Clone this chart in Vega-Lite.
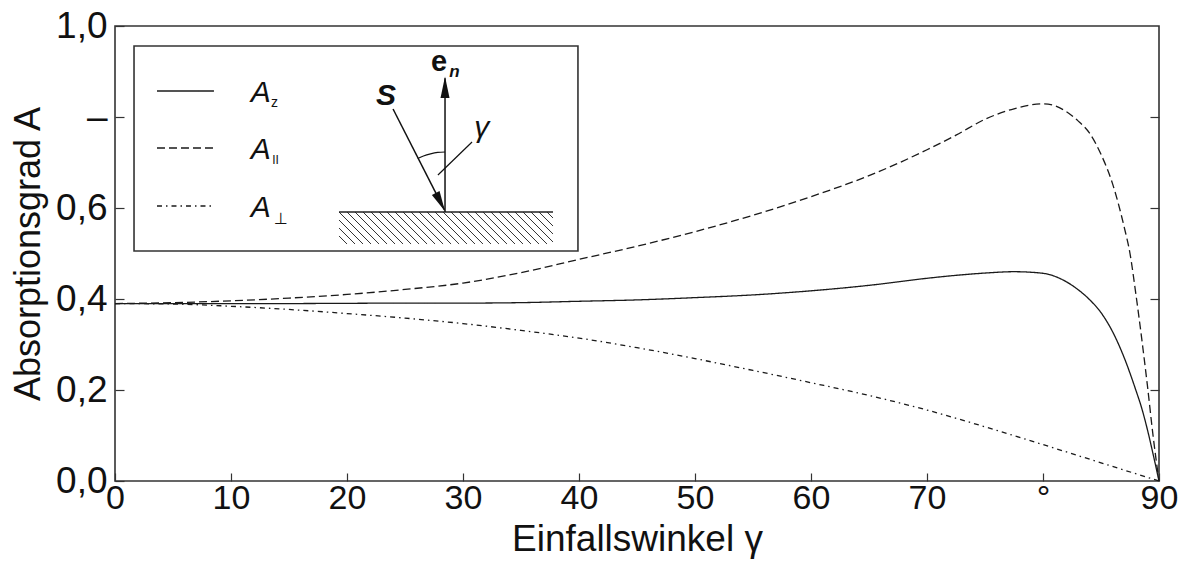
{
  "$schema": "https://vega.github.io/schema/vega-lite/v6.json",
  "width": 1044,
  "height": 455,
  "autosize": "none",
  "padding": {"left": 115, "top": 26, "right": 25, "bottom": 85},
  "background": "white",
  "config": {
    "view": {"stroke": "#333333", "strokeWidth": 1.6},
    "axis": {
      "grid": false,
      "domain": false,
      "labelFlush": false,
      "tickColor": "#333333",
      "tickWidth": 1.2,
      "labelColor": "#111111",
      "titleColor": "#111111",
      "labelFont": "Liberation Sans, Arial, sans-serif",
      "titleFont": "Liberation Sans, Arial, sans-serif",
      "labelFontSize": 37,
      "titleFontSize": 36,
      "titleFontWeight": "normal"
    }
  },
  "datasets": {
    "kurven": [
      {"x": 0, "y": 0.390, "serie": "Az"},
      {"x": 5, "y": 0.390, "serie": "Az"},
      {"x": 10, "y": 0.390, "serie": "Az"},
      {"x": 15, "y": 0.390, "serie": "Az"},
      {"x": 20, "y": 0.3905, "serie": "Az"},
      {"x": 25, "y": 0.391, "serie": "Az"},
      {"x": 30, "y": 0.391, "serie": "Az"},
      {"x": 35, "y": 0.392, "serie": "Az"},
      {"x": 40, "y": 0.395, "serie": "Az"},
      {"x": 45, "y": 0.398, "serie": "Az"},
      {"x": 50, "y": 0.403, "serie": "Az"},
      {"x": 55, "y": 0.409, "serie": "Az"},
      {"x": 60, "y": 0.418, "serie": "Az"},
      {"x": 65, "y": 0.430, "serie": "Az"},
      {"x": 70, "y": 0.4455, "serie": "Az"},
      {"x": 72.5, "y": 0.452, "serie": "Az"},
      {"x": 75, "y": 0.457, "serie": "Az"},
      {"x": 77.5, "y": 0.460, "serie": "Az"},
      {"x": 80, "y": 0.4565, "serie": "Az"},
      {"x": 81, "y": 0.450, "serie": "Az"},
      {"x": 82, "y": 0.438, "serie": "Az"},
      {"x": 83, "y": 0.421, "serie": "Az"},
      {"x": 84, "y": 0.399, "serie": "Az"},
      {"x": 85, "y": 0.370, "serie": "Az"},
      {"x": 86, "y": 0.328, "serie": "Az"},
      {"x": 87, "y": 0.271, "serie": "Az"},
      {"x": 88, "y": 0.200, "serie": "Az"},
      {"x": 88.5, "y": 0.161, "serie": "Az"},
      {"x": 89, "y": 0.113, "serie": "Az"},
      {"x": 89.5, "y": 0.058, "serie": "Az"},
      {"x": 90, "y": 0.0, "serie": "Az"},
      {"x": 0, "y": 0.390, "serie": "Apar"},
      {"x": 5, "y": 0.392, "serie": "Apar"},
      {"x": 10, "y": 0.396, "serie": "Apar"},
      {"x": 15, "y": 0.402, "serie": "Apar"},
      {"x": 20, "y": 0.410, "serie": "Apar"},
      {"x": 25, "y": 0.421, "serie": "Apar"},
      {"x": 30, "y": 0.435, "serie": "Apar"},
      {"x": 35, "y": 0.458, "serie": "Apar"},
      {"x": 40, "y": 0.487, "serie": "Apar"},
      {"x": 45, "y": 0.516, "serie": "Apar"},
      {"x": 50, "y": 0.548, "serie": "Apar"},
      {"x": 55, "y": 0.584, "serie": "Apar"},
      {"x": 60, "y": 0.625, "serie": "Apar"},
      {"x": 65, "y": 0.671, "serie": "Apar"},
      {"x": 70, "y": 0.728, "serie": "Apar"},
      {"x": 72.5, "y": 0.760, "serie": "Apar"},
      {"x": 75, "y": 0.795, "serie": "Apar"},
      {"x": 77.5, "y": 0.818, "serie": "Apar"},
      {"x": 80, "y": 0.829, "serie": "Apar"},
      {"x": 81, "y": 0.825, "serie": "Apar"},
      {"x": 82, "y": 0.812, "serie": "Apar"},
      {"x": 83, "y": 0.792, "serie": "Apar"},
      {"x": 84, "y": 0.765, "serie": "Apar"},
      {"x": 85, "y": 0.718, "serie": "Apar"},
      {"x": 86, "y": 0.653, "serie": "Apar"},
      {"x": 87, "y": 0.558, "serie": "Apar"},
      {"x": 87.5, "y": 0.500, "serie": "Apar"},
      {"x": 88, "y": 0.412, "serie": "Apar"},
      {"x": 88.5, "y": 0.315, "serie": "Apar"},
      {"x": 89, "y": 0.210, "serie": "Apar"},
      {"x": 89.5, "y": 0.097, "serie": "Apar"},
      {"x": 90, "y": 0.0, "serie": "Apar"},
      {"x": 0, "y": 0.390, "serie": "Aperp"},
      {"x": 5, "y": 0.389, "serie": "Aperp"},
      {"x": 10, "y": 0.384, "serie": "Aperp"},
      {"x": 15, "y": 0.377, "serie": "Aperp"},
      {"x": 20, "y": 0.368, "serie": "Aperp"},
      {"x": 25, "y": 0.358, "serie": "Aperp"},
      {"x": 30, "y": 0.346, "serie": "Aperp"},
      {"x": 35, "y": 0.331, "serie": "Aperp"},
      {"x": 40, "y": 0.314, "serie": "Aperp"},
      {"x": 45, "y": 0.293, "serie": "Aperp"},
      {"x": 50, "y": 0.269, "serie": "Aperp"},
      {"x": 55, "y": 0.243, "serie": "Aperp"},
      {"x": 60, "y": 0.216, "serie": "Aperp"},
      {"x": 65, "y": 0.188, "serie": "Aperp"},
      {"x": 70, "y": 0.156, "serie": "Aperp"},
      {"x": 75, "y": 0.119, "serie": "Aperp"},
      {"x": 80, "y": 0.080, "serie": "Aperp"},
      {"x": 85, "y": 0.040, "serie": "Aperp"},
      {"x": 90, "y": 0.0, "serie": "Aperp"}
    ],
    "legende": [
      {"x": 3.62, "x2": 8.53, "y": 0.8571, "serie": "Az"},
      {"x": 3.62, "x2": 8.53, "y": 0.7319, "serie": "Apar"},
      {"x": 3.62, "x2": 8.53, "y": 0.6044, "serie": "Aperp"}
    ],
    "rahmen": [{"x": 1.64, "x2": 39.91, "y": 0.5055, "y2": 0.956}],
    "symbolA": [
      {"x": 11.70, "y": 0.8330, "t": "A"},
      {"x": 11.70, "y": 0.7077, "t": "A"},
      {"x": 11.70, "y": 0.5802, "t": "A"}
    ],
    "indexZ": [{"x": 13.45, "y": 0.8220, "t": "z"}],
    "indexPar": [{"x": 13.55, "y": 0.6967, "t": "II"}],
    "indexSenk": [{"x": 13.70, "y": 0.5648, "t": "⊥"}],
    "flaeche": [{"x": 19.31, "x2": 37.76, "y": 0.5912}],
    "schraffur": [
      {"x": 19.31, "y": 0.5385, "x2": 20.00, "y2": 0.5209},
      {"x": 19.31, "y": 0.5560, "x2": 20.69, "y2": 0.5209},
      {"x": 19.31, "y": 0.5736, "x2": 21.38, "y2": 0.5209},
      {"x": 19.31, "y": 0.5912, "x2": 22.07, "y2": 0.5209},
      {"x": 20.00, "y": 0.5912, "x2": 22.76, "y2": 0.5209},
      {"x": 20.69, "y": 0.5912, "x2": 23.45, "y2": 0.5209},
      {"x": 21.38, "y": 0.5912, "x2": 24.14, "y2": 0.5209},
      {"x": 22.07, "y": 0.5912, "x2": 24.83, "y2": 0.5209},
      {"x": 22.76, "y": 0.5912, "x2": 25.52, "y2": 0.5209},
      {"x": 23.45, "y": 0.5912, "x2": 26.21, "y2": 0.5209},
      {"x": 24.14, "y": 0.5912, "x2": 26.90, "y2": 0.5209},
      {"x": 24.83, "y": 0.5912, "x2": 27.59, "y2": 0.5209},
      {"x": 25.52, "y": 0.5912, "x2": 28.28, "y2": 0.5209},
      {"x": 26.21, "y": 0.5912, "x2": 28.97, "y2": 0.5209},
      {"x": 26.90, "y": 0.5912, "x2": 29.66, "y2": 0.5209},
      {"x": 27.59, "y": 0.5912, "x2": 30.34, "y2": 0.5209},
      {"x": 28.28, "y": 0.5912, "x2": 31.03, "y2": 0.5209},
      {"x": 28.97, "y": 0.5912, "x2": 31.72, "y2": 0.5209},
      {"x": 29.66, "y": 0.5912, "x2": 32.41, "y2": 0.5209},
      {"x": 30.34, "y": 0.5912, "x2": 33.10, "y2": 0.5209},
      {"x": 31.03, "y": 0.5912, "x2": 33.79, "y2": 0.5209},
      {"x": 31.72, "y": 0.5912, "x2": 34.48, "y2": 0.5209},
      {"x": 32.41, "y": 0.5912, "x2": 35.17, "y2": 0.5209},
      {"x": 33.10, "y": 0.5912, "x2": 35.86, "y2": 0.5209},
      {"x": 33.79, "y": 0.5912, "x2": 36.55, "y2": 0.5209},
      {"x": 34.48, "y": 0.5912, "x2": 37.24, "y2": 0.5209},
      {"x": 35.17, "y": 0.5912, "x2": 37.76, "y2": 0.5253},
      {"x": 35.86, "y": 0.5912, "x2": 37.76, "y2": 0.5429},
      {"x": 36.55, "y": 0.5912, "x2": 37.76, "y2": 0.5604},
      {"x": 37.24, "y": 0.5912, "x2": 37.76, "y2": 0.5780}
    ],
    "normale": [{"x": 28.45, "y": 0.5912, "y2": 0.8850}],
    "strahl": [{"x": 23.97, "y": 0.8176, "x2": 28.40, "y2": 0.5960}],
    "hinweis": [{"x": 27.84, "y": 0.6725, "x2": 30.78, "y2": 0.7451}],
    "bogen": [
      {"x": 26.10, "y": 0.7088},
      {"x": 26.59, "y": 0.7143},
      {"x": 27.20, "y": 0.7191},
      {"x": 27.82, "y": 0.7222},
      {"x": 28.45, "y": 0.7231}
    ],
    "spitzeNormale": [{"x": 28.45, "y": 0.8890}],
    "spitzeStrahl": [{"x": 28.45, "y": 0.5930}],
    "textS": [{"x": 23.36, "y": 0.8264, "t": "S"}],
    "textE": [{"x": 27.93, "y": 0.9018, "t": "e"}],
    "textN": [{"x": 28.82, "y": 0.8872, "t": "n"}],
    "textGamma": [{"x": 31.61, "y": 0.7560, "t": "γ"}]
  },
  "encoding": {
    "x": {
      "field": "x", "type": "quantitative",
      "scale": {"domain": [0, 90], "nice": false, "zero": false},
      "axis": {
        "orient": "bottom",
        "values": [0, 10, 20, 30, 40, 50, 60, 70, 80, 90],
        "offset": -8,
        "tickSize": 8,
        "labelPadding": 0,
        "labelFontSize": 34,
        "labelExpr": "datum.value == 80 ? '°' : datum.label",
        "title": "Einfallswinkel γ",
        "titleFontSize": 37,
        "titlePadding": 6
      }
    },
    "y": {"field": "y", "type": "quantitative", "scale": {"domain": [0, 1], "nice": false}, "axis": null}
  },
  "layer": [
    {
      "data": {"name": "kurven"},
      "mark": {"type": "line", "interpolate": "monotone", "strokeWidth": 1.3, "color": "#1a1a1a"},
      "encoding": {
        "y": {
          "field": "y", "type": "quantitative",
          "scale": {"domain": [0, 1], "nice": false},
          "axis": {
            "orient": "left",
            "values": [0, 0.2, 0.4, 0.6, 0.8, 1],
            "offset": -9,
            "tickSize": 9,
            "labelPadding": 8,
            "labelExpr": "datum.value == 0.8 ? '–' : replace(format(datum.value, '.1f'), '.', ',')",
            "title": "Absorptionsgrad A",
            "titlePadding": 8
          }
        },
        "strokeDash": {
          "field": "serie", "type": "nominal",
          "scale": {"domain": ["Az", "Apar", "Aperp"], "range": [[1, 0], [8, 4], [5, 4, 1.5, 4]]},
          "legend": null
        },
        "detail": {"field": "serie"}
      }
    },
    {
      "data": {"name": "rahmen"},
      "mark": {"type": "rect", "fill": "white", "stroke": "#333333", "strokeWidth": 1.6},
      "encoding": {
        "x2": {"field": "x2"},
        "y": {
          "field": "y", "type": "quantitative",
          "scale": {"domain": [0, 1], "nice": false},
          "axis": {
            "orient": "right",
            "values": [0.2, 0.4, 0.6, 0.8],
            "offset": -9,
            "tickSize": 9,
            "labels": false,
            "title": null
          }
        },
        "y2": {"field": "y2"}
      }
    },
    {
      "data": {"name": "legende"},
      "mark": {"type": "rule", "strokeWidth": 1.3, "color": "#1a1a1a"},
      "encoding": {
        "x2": {"field": "x2"},
        "strokeDash": {
          "field": "serie", "type": "nominal",
          "scale": {"domain": ["Az", "Apar", "Aperp"], "range": [[1, 0], [8, 4], [5, 4, 1.5, 4]]},
          "legend": null
        }
      }
    },
    {
      "data": {"name": "symbolA"},
      "mark": {"type": "text", "align": "left", "baseline": "alphabetic", "font": "Liberation Sans, Arial, sans-serif", "fontSize": 30, "fontStyle": "italic", "color": "#111111"},
      "encoding": {"text": {"field": "t"}}
    },
    {
      "data": {"name": "indexZ"},
      "mark": {"type": "text", "align": "left", "baseline": "alphabetic", "font": "Liberation Sans, Arial, sans-serif", "fontSize": 14, "color": "#111111"},
      "encoding": {"text": {"field": "t"}}
    },
    {
      "data": {"name": "indexPar"},
      "mark": {"type": "text", "align": "left", "baseline": "alphabetic", "font": "Liberation Sans, Arial, sans-serif", "fontSize": 12, "color": "#111111"},
      "encoding": {"text": {"field": "t"}}
    },
    {
      "data": {"name": "indexSenk"},
      "mark": {"type": "text", "align": "left", "baseline": "alphabetic", "font": "DejaVu Sans, sans-serif", "fontSize": 16, "color": "#111111"},
      "encoding": {"text": {"field": "t"}}
    },
    {
      "data": {"name": "schraffur"},
      "mark": {"type": "rule", "strokeWidth": 1, "color": "#333333"},
      "encoding": {"x2": {"field": "x2"}, "y2": {"field": "y2"}}
    },
    {
      "data": {"name": "flaeche"},
      "mark": {"type": "rule", "strokeWidth": 1.5, "color": "#222222"},
      "encoding": {"x2": {"field": "x2"}}
    },
    {
      "data": {"name": "normale"},
      "mark": {"type": "rule", "strokeWidth": 1.5, "color": "#111111"},
      "encoding": {"y2": {"field": "y2"}}
    },
    {
      "data": {"name": "strahl"},
      "mark": {"type": "rule", "strokeWidth": 1.5, "color": "#111111"},
      "encoding": {"x2": {"field": "x2"}, "y2": {"field": "y2"}}
    },
    {
      "data": {"name": "hinweis"},
      "mark": {"type": "rule", "strokeWidth": 1.2, "color": "#111111"},
      "encoding": {"x2": {"field": "x2"}, "y2": {"field": "y2"}}
    },
    {
      "data": {"name": "bogen"},
      "mark": {"type": "line", "interpolate": "monotone", "strokeWidth": 1.2, "color": "#111111"},
      "encoding": {}
    },
    {
      "data": {"name": "spitzeNormale"},
      "mark": {"type": "point", "shape": "M0,0L0.42,2L-0.42,2Z", "size": 460, "filled": true, "color": "#111111", "opacity": 1, "angle": 0}
    },
    {
      "data": {"name": "spitzeStrahl"},
      "mark": {"type": "point", "shape": "M0,0L0.42,2L-0.42,2Z", "size": 420, "filled": true, "color": "#111111", "opacity": 1, "angle": 153}
    },
    {
      "data": {"name": "textS"},
      "mark": {"type": "text", "align": "center", "baseline": "alphabetic", "font": "Liberation Sans, Arial, sans-serif", "fontSize": 30, "fontWeight": "bold", "fontStyle": "italic", "color": "#111111"},
      "encoding": {"text": {"field": "t"}}
    },
    {
      "data": {"name": "textE"},
      "mark": {"type": "text", "align": "center", "baseline": "alphabetic", "font": "Liberation Sans, Arial, sans-serif", "fontSize": 29, "fontWeight": "bold", "color": "#111111"},
      "encoding": {"text": {"field": "t"}}
    },
    {
      "data": {"name": "textN"},
      "mark": {"type": "text", "align": "left", "baseline": "alphabetic", "font": "Liberation Sans, Arial, sans-serif", "fontSize": 17, "fontWeight": "bold", "fontStyle": "italic", "color": "#111111"},
      "encoding": {"text": {"field": "t"}}
    },
    {
      "data": {"name": "textGamma"},
      "mark": {"type": "text", "align": "center", "baseline": "alphabetic", "font": "Liberation Sans, DejaVu Sans, sans-serif", "fontSize": 30, "fontStyle": "italic", "color": "#111111"},
      "encoding": {"text": {"field": "t"}}
    }
  ],
  "resolve": {"axis": {"y": "independent"}}
}
